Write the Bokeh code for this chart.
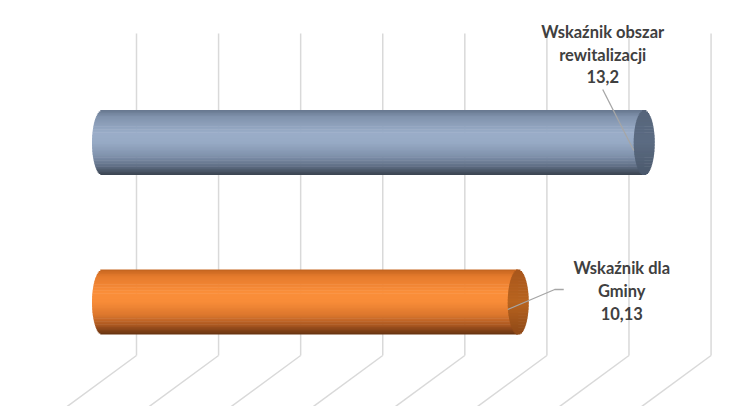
import math
from bokeh.plotting import figure
from bokeh.models import Range1d
from bokeh.core.properties import value
from bokeh.embed import file_html
from bokeh.resources import INLINE

# ---------------- data ----------------
categories = ["Wskaźnik dla Gminy", "Wskaźnik obszar rewitalizacji"]
values = [10.13, 13.2]
label_names = [["Wskaźnik dla", "Gminy"], ["Wskaźnik obszar", "rewitalizacji"]]
grid_ticks = [0, 2, 4, 6, 8, 10, 12, 14]

# ---------------- layout constants ----------------
W, H = 750, 406
PX = 41.04          # px per value unit
PY = 159.5          # px per category step
X0 = -102 / PX
X1 = X0 + W / PX
Y1 = 1 + 142 / PY
Y0 = Y1 - H / PY

p = figure(width=W, height=H, x_range=Range1d(X0, X1), y_range=Range1d(Y0, Y1),
           x_axis_type=None, y_axis_type=None, output_backend="svg",
           toolbar_location=None, min_border=0)
p.outline_line_color = None
p.background_fill_color = "white"
p.border_fill_color = "white"
p.grid.visible = False

# ---------------- 3D back wall grid + floor ----------------
depth = 34 / PX                # back wall shift
g_top = Y1 - 33 / PY
g_bot = Y1 - 355 / PY
slope = (68 / PX) / (50 / PY)  # x per y on floor
g_end = Y0 - 10 / PY
gx = [t + depth for t in grid_ticks]
p.segment(x0=gx, y0=[g_top] * len(gx), x1=gx, y1=[g_bot] * len(gx),
          line_color="#d9d9d9", line_width=1.5)
p.segment(x0=gx, y0=[g_bot] * len(gx),
          x1=[x - slope * (g_bot - g_end) for x in gx], y1=[g_end] * len(gx),
          line_color="#d9d9d9", line_width=1.5)

# ---------------- cylinders ----------------
def hx(c):
    c = c.lstrip("#")
    return [int(c[i:i + 2], 16) for i in (0, 2, 4)]

def interp(stops, t):
    for (t0, c0), (t1, c1) in zip(stops, stops[1:]):
        if t0 <= t <= t1:
            f = (t - t0) / (t1 - t0) if t1 > t0 else 0
            a, b = hx(c0), hx(c1)
            return "#%02x%02x%02x" % tuple(round(a[k] + (b[k] - a[k]) * f) for k in range(3))
    return stops[-1][1]

body_stops = [
    [(0.0, "#c2631f"), (0.1, "#e47a2c"), (0.35, "#fa8e3a"), (0.5, "#f88c38"),
     (0.7, "#dc772d"), (0.86, "#a85620"), (1.0, "#653210")],
    [(0.0, "#66768e"), (0.1, "#8092ac"), (0.35, "#9aadc8"), (0.5, "#97aac5"),
     (0.7, "#8193ad"), (0.86, "#606f86"), (1.0, "#39424f")],
]
cap_stops = [
    [(0.0, "#a8561c"), (0.5, "#b8641f"), (1.0, "#8e4817")],
    [(0.0, "#56657b"), (0.5, "#5b6b82"), (1.0, "#4a586b")],
]

HB = 32.5 / PY     # half bar height
A = 10.5 / PX      # ellipse half-width
N = 44
eps = 0.6 / PY
for idx, v in enumerate(values):
    bl, br, bt, bb, bc = [], [], [], [], []
    cl, cr, cc = [], [], []
    for i in range(N):
        t0, t1 = i / N, (i + 1) / N
        tm = (t0 + t1) / 2
        s = 2 * tm - 1
        w = A * math.sqrt(max(0.0, 1 - s * s))
        top = idx + HB * (1 - 2 * t0)
        bot = idx + HB * (1 - 2 * t1) - (eps if i < N - 1 else 0)
        bl.append(-w); br.append(v); bt.append(top); bb.append(bot)
        bc.append(interp(body_stops[idx], tm))
        cl.append(v - w); cr.append(v + w); cc.append(interp(cap_stops[idx], tm))
    p.quad(left=bl, right=br, top=bt, bottom=bb, fill_color=bc, line_color=None)
    p.quad(left=cl, right=cr, top=bt, bottom=bb, fill_color=cc, line_color=None)

# ---------------- leader lines ----------------
leaders = [
    [(-10.5, 7.5), (36.5, -12.5), (45.5, -12.5)],
    [(-41.5, -53), (-10.5, 8)],
]
for idx, v in enumerate(values):
    xs = [v + dx / PX for dx, dy in leaders[idx]]
    ys = [idx - dy / PY for dx, dy in leaders[idx]]
    p.line(xs, ys, line_color="#a6a6a6", line_width=1.3)

# ---------------- labels ----------------
label_dx = [103.5, -41.5]
label_dy = [[-34.5, -11.5, 11.5], [-111, -88, -66]]
for idx, v in enumerate(values):
    lines = label_names[idx] + [("%g" % v).replace(".", ",")]
    for j, ln in enumerate(lines):
        p.text(x=[v], y=[idx], text=[ln], x_offset=label_dx[idx], y_offset=label_dy[idx][j],
               text_font=value("Lato"), text_font_style="bold", text_font_size="16.5px",
               text_color="#404040", text_align="center", text_baseline="middle")

open("out.html", "w").write(file_html(p, INLINE))
